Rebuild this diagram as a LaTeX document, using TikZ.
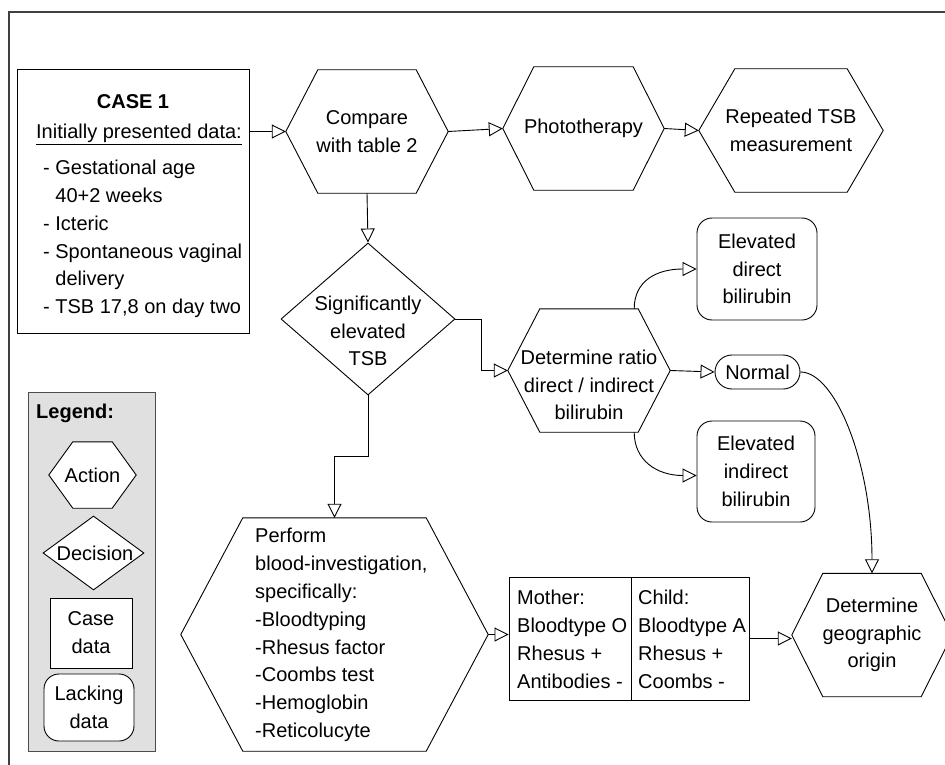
\documentclass[tikz,border=0pt]{standalone}
\usepackage{fontspec}
\setmainfont{Liberation Sans}
\usetikzlibrary{arrows.meta,shapes.geometric,backgrounds}

% hexagonal outline around a rectangular node: #1 node name, #2 horizontal inset
\newcommand\drawhex[2]{%
  \draw[outline] ([xshift=#2]#1.north west) -- ([xshift=-#2]#1.north east) -- (#1.east)
    -- ([xshift=-#2]#1.south east) -- ([xshift=#2]#1.south west) -- (#1.west) -- cycle;}

\tikzset{
  base/.style={font=\fontsize{20}{27.8}\selectfont},
  bold/.style={font=\fontsize{20}{27.8}\selectfont\bfseries},
  outline/.style={draw=black, line width=0.9pt, fill=white},
  hexbox/.style={rectangle, inner sep=0pt, align=center, base},
  casebox/.style={rectangle, draw=black, line width=0.9pt, fill=white, inner sep=0pt},
  lackbox/.style={rectangle, rounded corners=15pt, draw=black, line width=0.9pt, fill=white,
    inner sep=0pt, align=center, base},
  decision/.style={diamond, draw=black, line width=0.9pt, fill=white, inner sep=0pt},
  txt/.style={base, inner sep=0pt, align=left},
  ctxt/.style={base, inner sep=0pt, align=center},
  legendbox/.style={rectangle, draw=black!70, fill=black!12, line width=0.9pt},
  arr/.style={line width=0.9pt, -{Triangle[open,length=14pt,width=14pt]}},
  frame/.style={line width=1.6pt, draw=black!75},
}

\begin{document}
\begin{tikzpicture}[x=1pt,y=-1pt]
\useasboundingbox (0,0) rectangle (945,765);
\clip (0,0) rectangle (945,765);

% outer frame (top and left edges)
\draw[frame] (9,765) -- (9,12) -- (945,12);

% ---------- case data ----------
\node[casebox, minimum width=232pt, minimum height=264pt] (case) at (133,201) {};
\node[txt, bold] (casetitle) at (133,102) {CASE 1};
\node[txt] (caseintro) at (139,134) {\underline{Initially presented data:}};
\node[txt, anchor=west] (caselist) at (43,239) {- Gestational age\\\hspace*{12.2pt}40+2 weeks\\- Icteric\\- Spontaneous vaginal\\\hspace*{12.2pt}delivery\\- TSB 17,8 on day two};

% ---------- actions ----------
\node[hexbox, minimum width=162pt, minimum height=123pt] (compare) at (367,131.5) {Compare\\with table 2};
\node[hexbox, minimum width=161pt, minimum height=123pt] (photo) at (583.5,128.5) {Phototherapy};
\node[hexbox, minimum width=184pt, minimum height=123pt] (repeat) at (791,130.5) {Repeated TSB\\measurement};
\node[hexbox, minimum width=162pt, minimum height=123pt] (ratio) at (589,370.5) {};
\node[ctxt] (ratiolabel) at (589,385) {Determine ratio\\direct / indirect\\bilirubin};
\node[hexbox, minimum width=307pt, minimum height=233pt] (perform) at (334.5,634.5) {};
\node[txt, anchor=west] (performlabel) at (255,635) {Perform\\blood-investigation,\\specifically:\\-Bloodtyping\\-Rhesus factor\\-Coombs test\\-Hemoglobin\\-Reticolucyte};
\node[hexbox, minimum width=160pt, minimum height=123pt] (geo) at (872,635) {Determine\\geographic\\origin};

% ---------- decision ----------
\node[decision, minimum width=174pt, minimum height=152pt] (sig) at (368,319) {};
\node[ctxt] (siglabel) at (368,331) {Significantly\\elevated\\TSB};

% ---------- lacking data ----------
\node[lackbox, minimum width=120pt, minimum height=102pt] (eldirect) at (757,269) {Elevated\\direct\\bilirubin};
\node[lackbox, minimum width=85pt, minimum height=34pt, rounded corners=17pt] (normal) at (757.5,372) {Normal};
\node[lackbox, minimum width=118pt, minimum height=101pt] (elindirect) at (756,471.5) {Elevated\\indirect\\bilirubin};

% ---------- blood results ----------
\node[casebox, minimum width=122pt, minimum height=123pt] (mother) at (570,638.5) {};
\node[casebox, minimum width=118pt, minimum height=123pt] (child) at (690,638.5) {};
\node[txt, anchor=west] (mothertext) at (517,639.5) {Mother:\\Bloodtype O\\Rhesus +\\Antibodies -};
\node[txt, anchor=west] (childtext) at (638,639.5) {Child:\\Bloodtype A\\Rhesus +\\Coombs -};

% ---------- legend ----------
\node[txt, bold, anchor=west] (legendtitle) at (36,413) {Legend:};
\node[hexbox, minimum width=87pt, minimum height=66pt] (legaction) at (92.5,475) {Action};
\node[decision, minimum width=101pt, minimum height=74pt] (legdecision) at (93.5,553) {};
\node[ctxt] (legdecisionlabel) at (95,553) {Decision};
\node[casebox, ctxt, minimum width=82pt, minimum height=70pt] (legcase) at (91,633) {Case\\data};
\node[lackbox, minimum width=90pt, minimum height=67pt] (leglack) at (89,707.5) {Lacking\\data};

% hexagon outlines and legend panel behind the texts
\begin{scope}[on background layer]
  \node[legendbox, minimum width=127pt, minimum height=359pt] (legend) at (91.5,571.5) {};
  \drawhex{legaction}{24pt}
  \drawhex{compare}{32pt}
  \drawhex{photo}{31pt}
  \drawhex{repeat}{36pt}
  \drawhex{ratio}{32pt}
  \drawhex{perform}{62pt}
  \drawhex{geo}{31pt}
\end{scope}

% ---------- connectors ----------
\draw[arr] (case.east |- compare.west) -- (compare.west);
\draw[arr] (compare.east) -- (photo.west);
\draw[arr] (photo.east) -- (repeat.west);
\draw[arr] (compare.south) -- (sig.north);
\draw[arr] (sig.east) -- ++(26,0) |- (ratio.west);
\draw[arr] (sig.south) -- ++(0,61) -| (perform.north);
\draw[arr] (ratio.east) -- (normal.west);
\draw[arr] ([xshift=-36pt]ratio.north east) .. controls +(0,-28) and +(-40,0) .. (eldirect.west);
\draw[arr] ([xshift=-36pt]ratio.south east) .. controls +(0,28) and +(-40,0) .. ([yshift=-4pt]elindirect.west);
\draw[arr] (normal.east) .. controls +(35,0) and +(0,-110) .. (geo.north);
\draw[arr] (perform.east) -- (perform.east -| mother.west);
\draw[arr] (child.east) -- (child.east -| geo.west);
\end{tikzpicture}
\end{document}
